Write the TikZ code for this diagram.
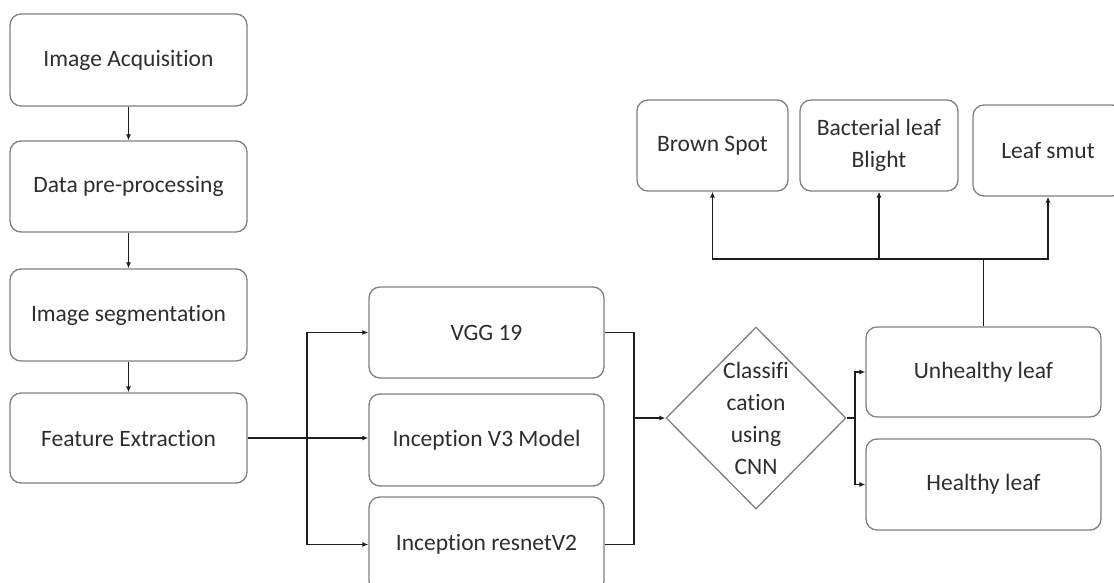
\documentclass[tikz,border=0pt]{standalone}
\usepackage{fontspec}
\setmainfont[Ligatures=NoCommon]{Carlito}
\usetikzlibrary{shapes.geometric,arrows.meta}
\definecolor{boxline}{HTML}{808080}
\definecolor{txt}{HTML}{2E2E2E}
\definecolor{conn}{HTML}{1E1E1E}
\tikzset{
  box/.style={draw=boxline, line width=1.3pt, rounded corners=11pt, text=txt,
    align=center, inner sep=0pt, font=\fontsize{23.5}{32}\selectfont},
  dia/.style={draw=boxline, line width=1.3pt, shape=diamond, text=txt,
    align=center, inner sep=0pt, font=\fontsize{23.5}{32}\selectfont},
  conline/.style={draw=conn, line width=1.7pt},
  arr/.style={conline, -{Latex[length=6pt,width=5pt]}}
}
\begin{document}
\begin{tikzpicture}[x=1pt,y=-1pt]
\path[use as bounding box] (0,0) rectangle (1114,583);
\clip (0,0) rectangle (1114,583);
\fill[white] (0,0) rectangle (1114,583);
% left column
\node[box, minimum width=237pt, minimum height=92pt] (acq) at (128.5,60) {Image Acquisition};
\node[box, minimum width=237pt, minimum height=91pt] (pre) at (128.5,186.5) {Data pre-processing};
\node[box, minimum width=237pt, minimum height=92pt] (seg) at (128.5,315) {Image segmentation};
\node[box, minimum width=237pt, minimum height=90pt] (fe) at (128.5,438) {Feature Extraction};
% models
\node[box, minimum width=235pt, minimum height=91pt] (vgg) at (486.5,332.5) {VGG 19};
\node[box, minimum width=235pt, minimum height=92pt] (v3) at (486.5,440) {Inception V3 Model};
\node[box, minimum width=235pt, minimum height=95pt] (res) at (486.5,544.5) {Inception resnetV2};
% classifier
\node[dia, minimum width=180pt, minimum height=182pt] (cls) at (756,418) {Classifi\\cation\\using\\CNN};
% outcomes
\node[box, minimum width=235pt, minimum height=90pt] (unh) at (983.5,372) {Unhealthy leaf};
\node[box, minimum width=235pt, minimum height=91pt] (hea) at (983.5,484.5) {Healthy leaf};
% diseases
\node[box, minimum width=151pt, minimum height=91pt] (brown) at (712.5,145.5) {Brown Spot};
\node[box, minimum width=158pt, minimum height=91pt] (bact) at (879,145.5) {Bacterial leaf\\Blight};
\node[box, minimum width=150pt, minimum height=91pt] (smut) at (1048,150.5) {Leaf smut};
% connectors
\draw[arr] (acq) -- (pre);
\draw[arr] (pre) -- (seg);
\draw[arr] (seg) -- (fe);
\coordinate (split) at (307,438);
\draw[arr] (fe.east) -- (fe.east -| v3.west);
\draw[arr] (split) |- (vgg.west);
\draw[arr] (split) |- (res.west);
\coordinate (merge) at (634,418);
\draw[conline] (vgg.east) -| (merge);
\draw[conline] (res.east) -| (merge);
\draw[arr] (merge) -- (cls.west);
\coordinate (out) at (855,418);
\draw[conline] (cls.east) -- (out);
\draw[arr] (out) |- (unh.west);
\draw[arr] (out) |- (hea.west);
\coordinate (top) at (983.5,259);
\draw[conline] (unh.north) -- (top);
\draw[arr] (top) -| (brown.south);
\draw[arr] (top) -| (bact.south);
\draw[arr] (top) -| (smut.south);
\end{tikzpicture}
\end{document}
